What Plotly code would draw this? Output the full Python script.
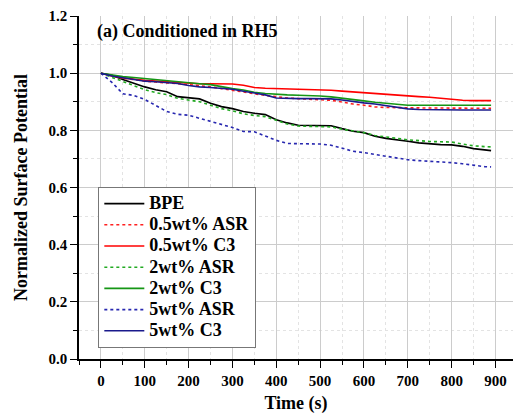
import plotly.graph_objects as go

time_s = [0, 25, 50, 75, 100, 125, 150, 175, 200, 225, 250, 275, 300, 325, 350, 375, 400,
          425, 450, 475, 500, 525, 550, 575, 600, 625, 650, 675, 700, 725, 750, 775, 800,
          825, 850, 875, 890]

bpe = [1.000, 0.993, 0.978, 0.965, 0.952, 0.942, 0.935, 0.918, 0.913, 0.910, 0.895, 0.883,
       0.876, 0.866, 0.860, 0.855, 0.837, 0.826, 0.818, 0.818, 0.818, 0.816, 0.806, 0.797,
       0.792, 0.779, 0.772, 0.768, 0.762, 0.756, 0.752, 0.750, 0.749, 0.744, 0.736, 0.731, 0.729]

asr_05 = [1.000, 0.990, 0.982, 0.978, 0.972, 0.969, 0.967, 0.963, 0.960, 0.957, 0.952, 0.946,
          0.940, 0.933, 0.926, 0.922, 0.918, 0.913, 0.911, 0.909, 0.907, 0.905, 0.899, 0.892,
          0.888, 0.882, 0.880, 0.879, 0.879, 0.879, 0.878, 0.878, 0.878, 0.877, 0.877, 0.877, 0.877]

c3_05 = [1.000, 0.990, 0.983, 0.978, 0.975, 0.972, 0.970, 0.966, 0.964, 0.963, 0.963, 0.963,
         0.962, 0.958, 0.950, 0.947, 0.946, 0.944, 0.944, 0.943, 0.941, 0.940, 0.937, 0.934,
         0.931, 0.929, 0.927, 0.924, 0.921, 0.918, 0.916, 0.912, 0.908, 0.905, 0.904, 0.904, 0.904]

asr_2 = [1.000, 0.985, 0.970, 0.955, 0.942, 0.932, 0.925, 0.912, 0.905, 0.900, 0.888, 0.876,
         0.868, 0.858, 0.852, 0.848, 0.835, 0.822, 0.815, 0.814, 0.814, 0.812, 0.804, 0.797,
         0.792, 0.782, 0.776, 0.772, 0.767, 0.763, 0.761, 0.760, 0.759, 0.752, 0.746, 0.743, 0.742]

c3_2 = [1.000, 0.993, 0.988, 0.985, 0.981, 0.978, 0.975, 0.970, 0.966, 0.963, 0.960, 0.952,
        0.946, 0.941, 0.933, 0.929, 0.926, 0.924, 0.923, 0.922, 0.920, 0.917, 0.913, 0.907,
        0.903, 0.898, 0.894, 0.891, 0.888, 0.888, 0.888, 0.888, 0.888, 0.888, 0.888, 0.888, 0.888]

asr_5 = [1.000, 0.968, 0.928, 0.922, 0.908, 0.888, 0.866, 0.856, 0.853, 0.842, 0.832, 0.820,
         0.810, 0.796, 0.795, 0.780, 0.765, 0.754, 0.754, 0.754, 0.752, 0.748, 0.737, 0.727,
         0.722, 0.716, 0.711, 0.705, 0.697, 0.694, 0.692, 0.690, 0.687, 0.683, 0.677, 0.673, 0.672]

c3_5 = [1.000, 0.990, 0.984, 0.977, 0.972, 0.970, 0.968, 0.964, 0.957, 0.952, 0.950, 0.948,
        0.944, 0.937, 0.930, 0.924, 0.913, 0.911, 0.911, 0.911, 0.911, 0.910, 0.906, 0.900,
        0.896, 0.892, 0.886, 0.880, 0.875, 0.873, 0.872, 0.872, 0.872, 0.871, 0.871, 0.871, 0.871]

series_names = ["BPE", "0.5wt% ASR", "0.5wt% C3", "2wt% ASR", "2wt% C3", "5wt% ASR", "5wt% C3"]
series_values = [bpe, asr_05, c3_05, asr_2, c3_2, asr_5, c3_5]
series_colors = ["#000000", "#ff2020", "#ff0000", "#22aa22", "#159615", "#2828b0", "#1a1a8c"]
series_dash = ["solid", "dot", "solid", "dot", "solid", "dot", "solid"]

x_ticks = [0, 100, 200, 300, 400, 500, 600, 700, 800, 900]
y_ticks = [0, 0.2, 0.4, 0.6, 0.8, 1.0, 1.2]
y_ticktext = ["0.0", "0.2", "0.4", "0.6", "0.8", "1.0", "1.2"]

FONT = "Liberation Serif"

fig = go.Figure()
for name, vals, color, dash in zip(series_names, series_values, series_colors, series_dash):
    fig.add_trace(go.Scatter(
        x=time_s, y=vals, name='<span style="font-size:18px">' + name + '</span>',
        mode="lines", line=dict(color=color, dash=dash, width=1.6)))

fig.update_layout(
    width=513, height=414,
    margin=dict(l=79, r=0, t=16, b=55),
    paper_bgcolor="white", plot_bgcolor="white",
    font=dict(family=FONT, color="black"),
    showlegend=True,
    legend=dict(x=0.0445, y=0.5015, xanchor="left", yanchor="top",
                bgcolor="white", bordercolor="#777777", borderwidth=1,
                font=dict(family=FONT, size=14, color="black", weight="bold"),
                tracegroupgap=0, itemwidth=40),
    annotations=[dict(text="<b>(a) Conditioned in RH5</b>", x=-13, y=1.147,
                      xref="x", yref="y", xanchor="left", yanchor="middle",
                      showarrow=False, font=dict(family=FONT, size=18, color="black"))],
)

fig.update_xaxes(
    range=[-50, 940], tickvals=x_ticks,
    ticks="outside", ticklen=7, tickwidth=1.2, tickcolor="black",
    showline=True, linecolor="black", linewidth=1.5,
    showgrid=True, gridcolor="#cccccc", gridwidth=1,
    minor=dict(dtick=50, tick0=0, ticks="outside", ticklen=4, tickcolor="black",
               showgrid=True, gridcolor="#e3e3e3", griddash="dot"),
    tickfont=dict(family=FONT, size=15, weight="bold"),
    title=dict(text="<b>Time (s)</b>", font=dict(family=FONT, size=18), standoff=12),
    zeroline=False,
)
fig.update_yaxes(
    range=[0, 1.2], tickvals=y_ticks, ticktext=y_ticktext,
    ticks="outside", ticklen=7, tickwidth=1.2, tickcolor="black",
    showline=True, linecolor="black", linewidth=1.5,
    showgrid=True, gridcolor="#cccccc", gridwidth=1,
    minor=dict(dtick=0.1, tick0=0, ticks="outside", ticklen=4, tickcolor="black",
               showgrid=True, gridcolor="#e3e3e3", griddash="dot"),
    tickfont=dict(family=FONT, size=15, weight="bold"),
    title=dict(text="<b>Normalized Surface Potential</b>", font=dict(family=FONT, size=18), standoff=16),
    zeroline=False,
)

fig.write_html("out.html")
